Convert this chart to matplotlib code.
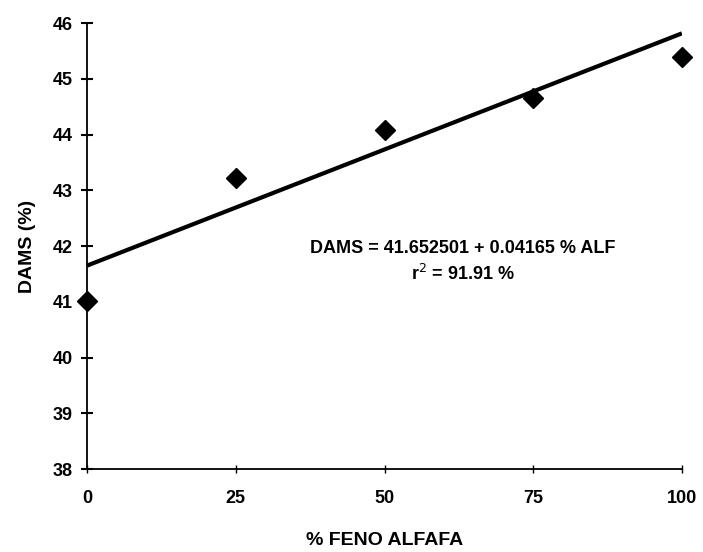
import matplotlib
matplotlib.use("Agg")
import matplotlib.pyplot as plt
import numpy as np

# data
feno_alfalfa = [0, 25, 50, 75, 100]
dams = [41.02, 43.22, 44.08, 44.66, 45.40]
intercept = 41.652501
slope = 0.04165
x_ticks = [0, 25, 50, 75, 100]
y_ticks = [38, 39, 40, 41, 42, 43, 44, 45, 46]

plt.rcParams['font.family'] = ['Liberation Sans', 'DejaVu Sans']

fig = plt.figure(figsize=(7.03, 5.52), dpi=100, facecolor="white")
ax = fig.add_axes([0.124, 0.150, 0.846, 0.808])

fit_x = np.array([feno_alfalfa[0], feno_alfalfa[-1]])
ax.plot(fit_x, intercept + slope * fit_x, color="black", lw=3, solid_capstyle="butt", zorder=2)
ax.plot(feno_alfalfa, dams, linestyle="none", marker="D", ms=10, color="black",
        zorder=3, clip_on=False)

ax.set_xlim(0, 100)
ax.set_ylim(38, 46)
ax.set_xticks(x_ticks)
ax.set_yticks(y_ticks)

for side in ("top", "right"):
    ax.spines[side].set_visible(False)
for side in ("left", "bottom"):
    ax.spines[side].set_linewidth(1.3)

ax.tick_params(axis="y", direction="inout", length=9, width=1.5, pad=6,
               labelsize=13)
ax.tick_params(axis="x", direction="inout", length=6, width=1.0, pad=12,
               labelsize=13)
for lbl in ax.get_xticklabels() + ax.get_yticklabels():
    lbl.set_fontweight("bold")

ax.set_xlabel("% FENO ALFAFA", fontsize=14, fontweight="bold", labelpad=18)
ax.set_ylabel("DAMS (%)", fontsize=14, fontweight="bold", labelpad=12)

ax.text(63.2, 41.96, "DAMS = 41.652501 + 0.04165 % ALF", ha="center", va="center",
        fontsize=13, fontweight="bold")
ax.text(63.2, 41.51, "r$^2$ = 91.91 %", ha="center", va="center",
        fontsize=13, fontweight="bold")

fig.savefig("out.png", dpi=100, facecolor="white")
